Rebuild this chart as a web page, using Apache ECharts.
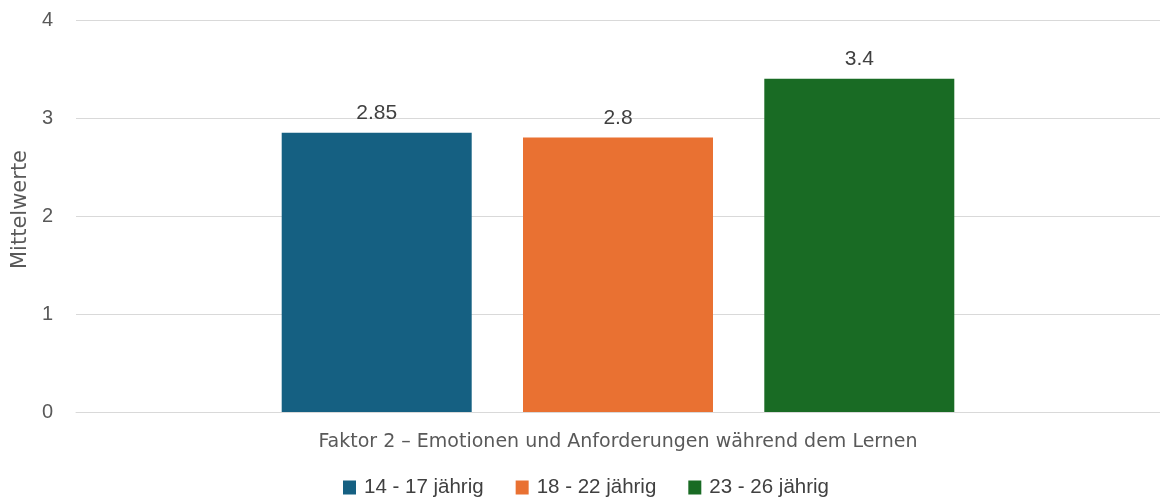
<!DOCTYPE html>
<html>
<head>
<meta charset="utf-8">
<script src="https://cdn.jsdelivr.net/npm/echarts@6/dist/echarts.min.js"></script>
<style>
  html, body { margin: 0; padding: 0; background: #fff; }
  #chart { width: 1160px; height: 499px; }
</style>
</head>
<body>
<div id="chart"></div>
<script>
// Daten
var categories = ['Faktor 2 – Emotionen und Anforderungen während dem Lernen']
var seriesNames = ['14 - 17 jährig', '18 - 22 jährig', '23 - 26 jährig']
var seriesValues = [[2.85], [2.8], [3.4]]
var colors = ['#156082', '#e97132', '#196b24']
var yTicks = [0, 1, 2, 3, 4]

var font = 'Liberation Sans'
var myChart = echarts.init(document.getElementById('chart'))

var series = seriesNames.map(function (name, i) {
  return {
    name: name,
    type: 'bar',
    data: seriesValues[i],
    barWidth: 190,
    barGap: '27%',
    itemStyle: { color: colors[i] },
    label: {
      show: true,
      position: 'top',
      distance: 9,
      color: '#404040',
      fontFamily: font,
      fontSize: 21
    }
  }
})

var option = {
  animation: false,
  grid: { left: 76, right: 0, top: 20, bottom: 87 },
  legend: {
    top: 472,
    left: 338,
    itemWidth: 13,
    itemHeight: 14,
    itemGap: 32,
    icon: 'rect',
    textStyle: { color: '#404040', fontFamily: font, fontSize: 20.5, padding: [0, 0, 0, 3] },
    data: seriesNames
  },
  xAxis: {
    type: 'category',
    data: categories,
    axisLine: { lineStyle: { color: '#d9d9d9', width: 1 } },
    axisTick: { show: false },
    axisLabel: { color: '#595959', fontFamily: 'DejaVu Sans', fontSize: 19, margin: 21 }
  },
  yAxis: {
    type: 'value',
    min: yTicks[0],
    max: yTicks[yTicks.length - 1],
    interval: 1,
    name: 'Mittelwerte',
    nameLocation: 'middle',
    nameGap: 45,
    nameTextStyle: { color: '#595959', fontFamily: 'DejaVu Sans', fontSize: 21, padding: [0, 0, 0, 13] },
    axisLabel: { color: '#595959', fontFamily: font, fontSize: 20, margin: 23 },
    splitLine: { lineStyle: { color: '#d9d9d9', width: 1 } }
  },
  series: series
}
myChart.setOption(option)
</script>
</body>
</html>
